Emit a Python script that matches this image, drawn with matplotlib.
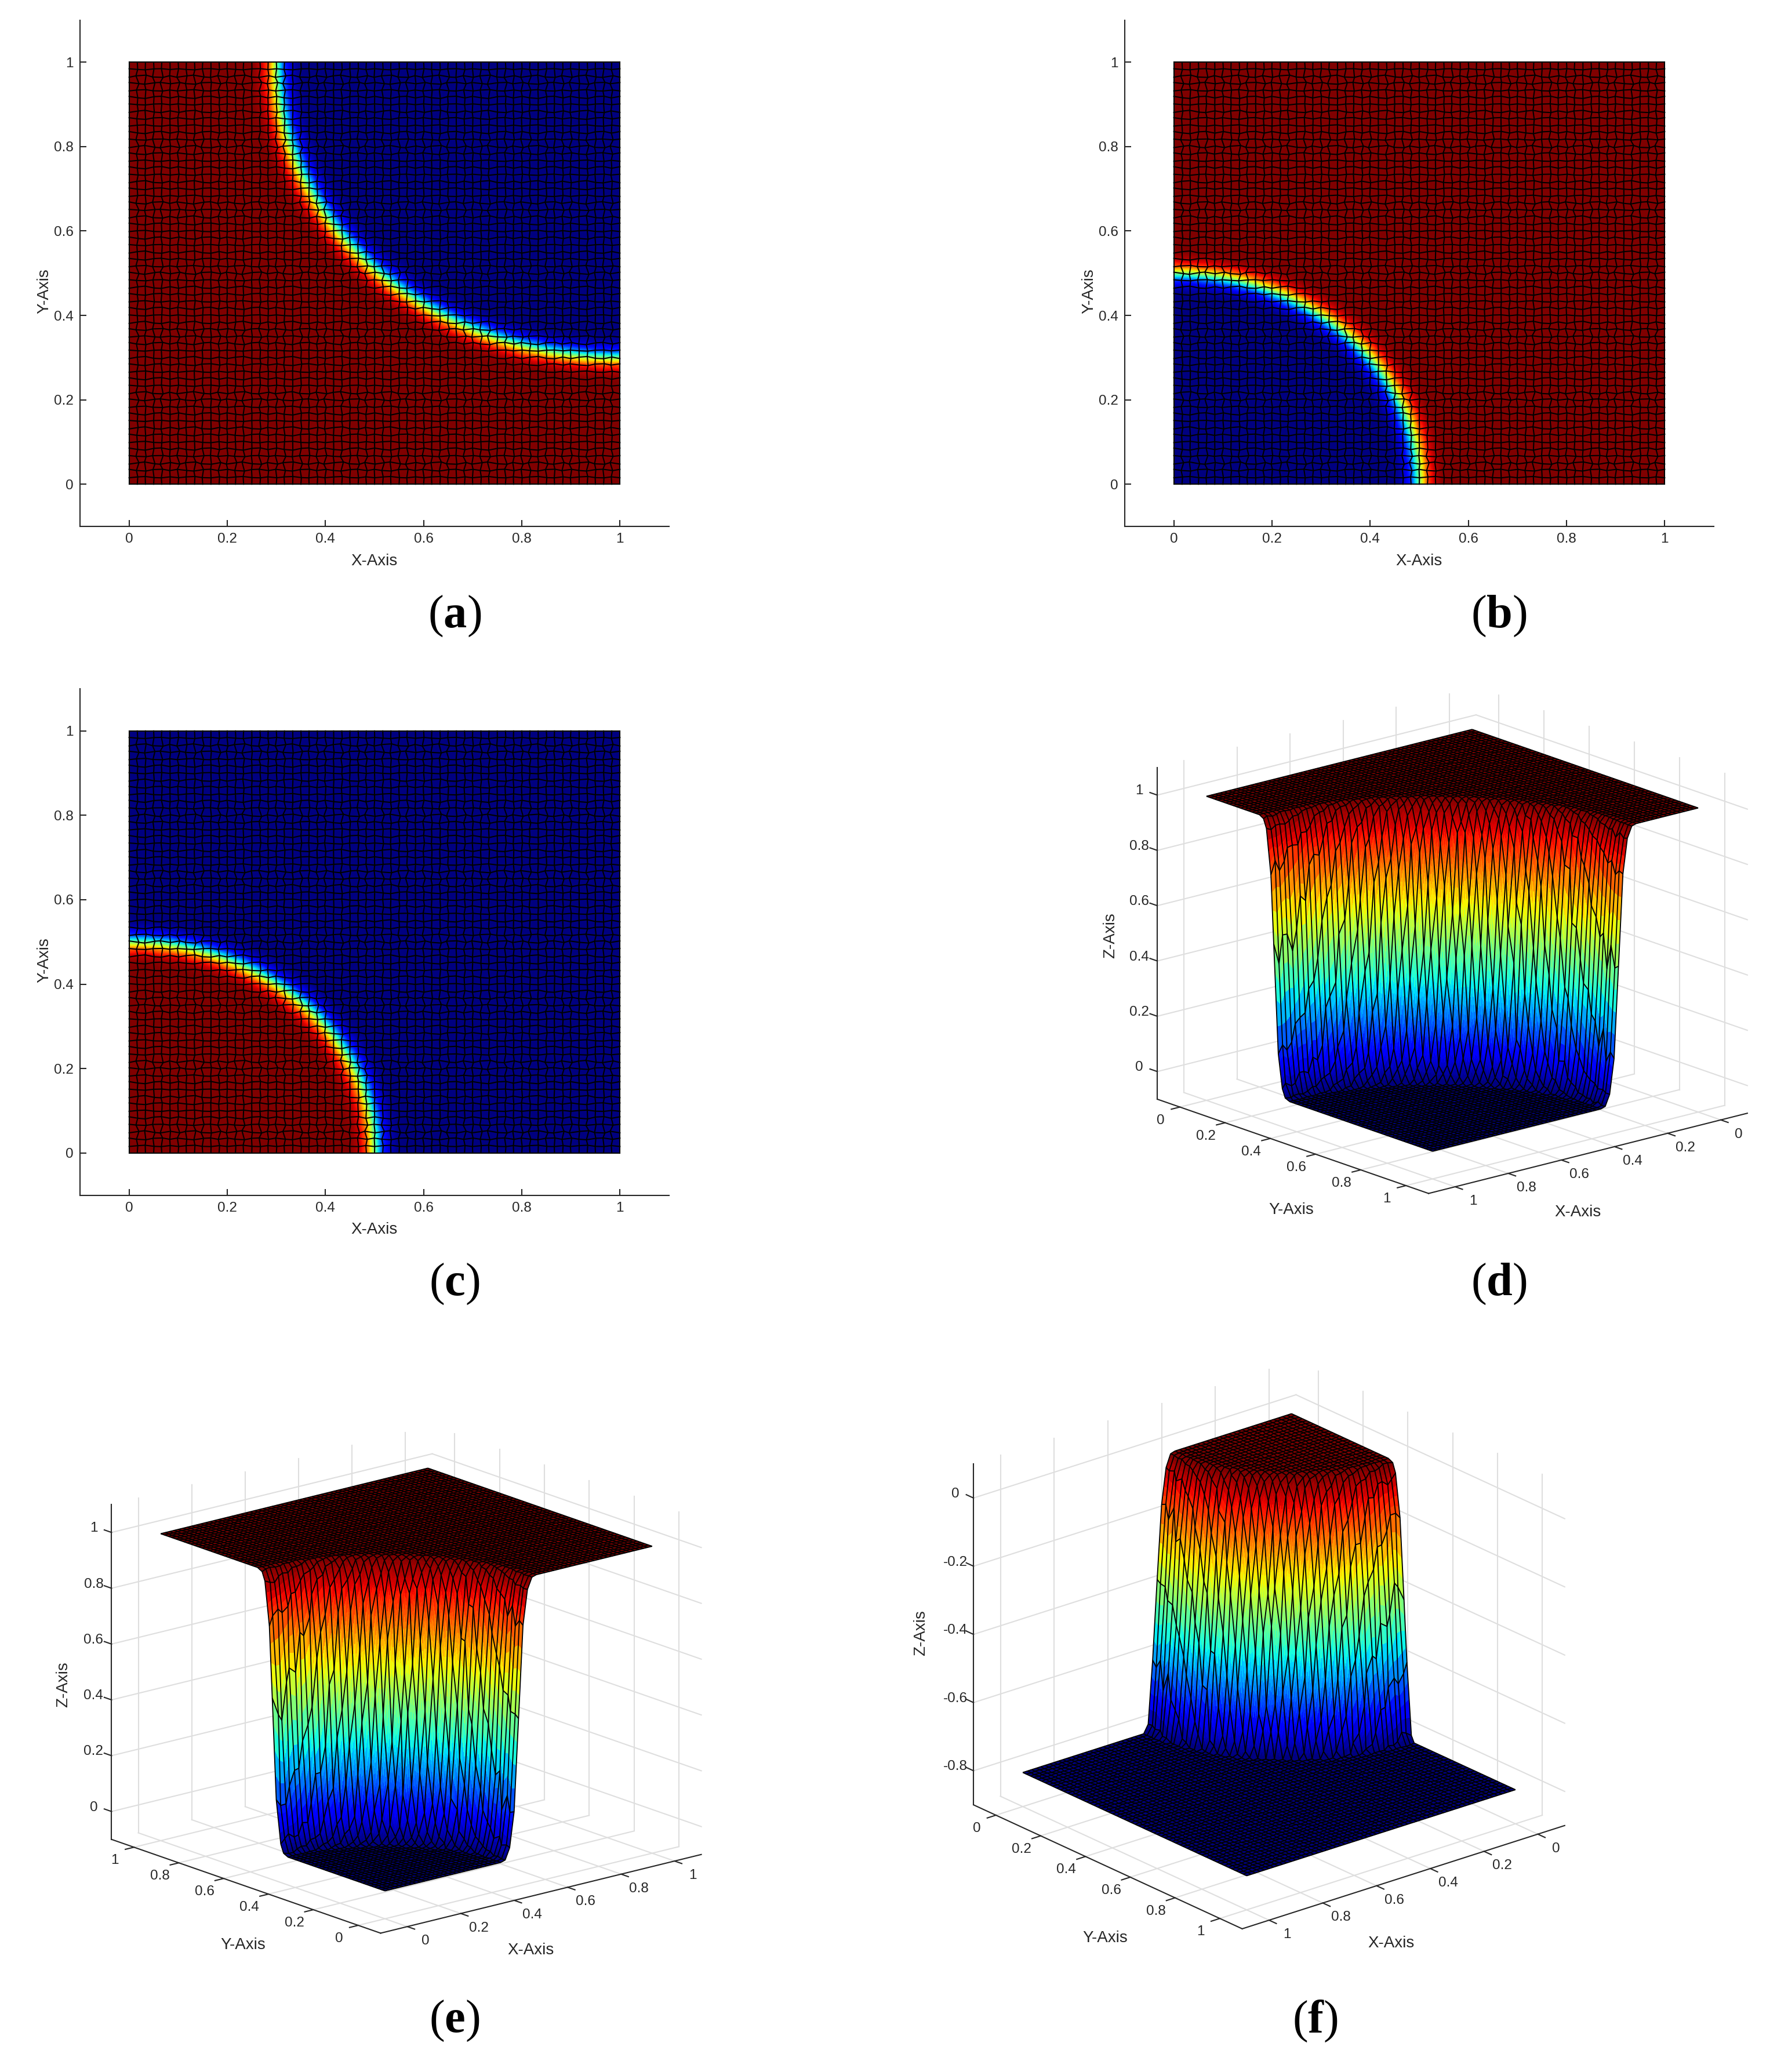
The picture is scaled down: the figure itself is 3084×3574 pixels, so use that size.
import numpy as np
import matplotlib
matplotlib.use('Agg')
import matplotlib.pyplot as plt
from matplotlib.colors import Normalize
from mpl_toolkits.mplot3d import proj3d

W, H = 3084, 3574
DPI = 100
INK = '#262626'
GRID = '#dedede'

# interface profile: distance in cells -> 1 inside, 0 outside
profile_d = [-3.5, -3, -2.5, -2, -1.5, -1, -0.5, 0, 0.5, 1, 1.5, 2, 2.5, 3, 3.5]
profile_u = [1, .995, .98, .955, .91, .83, .68, .5, .32, .17, .09, .045, .02, .005, 0]
# the column of panel f stands on the plane with a sharper foot
profile_u_f = [1, .995, .98, .95, .9, .82, .69, .55, .4, .26, .13, .03, 0, 0, 0]

# node shifts of the mesh, in cells, repeated over the grid
mesh_dy_cols = [.14, -.06, -.16, .1, .16, -.08]
mesh_dy_rows = [1, -.6, .8, -1, .5]
mesh_dx_rows = [0, .06, -.1, .2, -.16, .05, 0, -.05, .1]
mesh_dx_cols = [.3, 1, -.5, .8, -1]
n_cells = 60

# phase blobs: centre x, centre y, radius, value inside, value outside
field_a = (1.0, 1.0, 0.7, 0.0, 1.0)
field_b = (0.0, 0.0, 0.5, 0.0, 1.0)
field_c = (0.0, 0.0, 0.5, 1.0, 0.0)
field_f = (0.0, 0.0, 0.5, 0.0, -0.8)

ticks_01 = [0, 0.2, 0.4, 0.6, 0.8, 1]
labels_01 = ['0', '0.2', '0.4', '0.6', '0.8', '1']
ticks_f = [-0.8, -0.6, -0.4, -0.2, 0]
labels_f = ['-0.8', '-0.6', '-0.4', '-0.2', '0']

plt.rcParams['font.family'] = 'Liberation Sans'
plt.rcParams['mathtext.fontset'] = 'custom'
plt.rcParams['mathtext.bf'] = 'Liberation Serif:bold'
plt.rcParams['mathtext.rm'] = 'Liberation Serif'

jet64 = plt.get_cmap('jet', 64)


def make_mesh():
    t = np.linspace(0, 1, n_cells + 1)
    X, Y = np.meshgrid(t, t)
    jj, ii = np.meshgrid(range(n_cells + 1), range(n_cells + 1))
    dx = np.take(mesh_dx_rows, ii % len(mesh_dx_rows)) * np.take(mesh_dx_cols, jj % len(mesh_dx_cols))
    dy = np.take(mesh_dy_cols, jj % len(mesh_dy_cols)) * np.take(mesh_dy_rows, ii % len(mesh_dy_rows))
    X = X + dx / n_cells
    Y = Y + dy / n_cells
    # keep the outline straight
    X[:, 0], X[:, -1] = 0, 1
    Y[0, :], Y[-1, :] = 0, 1
    return X, Y


def field(X, Y, spec, prof=profile_u):
    cx, cy, radius, inside, outside = spec
    d = (np.hypot(X - cx, Y - cy) - radius) * n_cells
    return outside + (inside - outside) * np.interp(d, profile_d, prof)


def refine(A, k=4):
    # linear subdivision of every cell, so the colour runs through the map
    n = A.shape[0] - 1
    old = np.arange(n + 1)
    new = np.linspace(0, n, n * k + 1)
    A = np.apply_along_axis(lambda c: np.interp(new, old, c), 0, A)
    return np.apply_along_axis(lambda c: np.interp(new, old, c), 1, A)


def fig_text(px, py, s, **kw):
    return fig.text(px / W, 1 - py / H, s, ha='center', va='center', **kw)


def panel_2d(left, top, spec, caption, cap_xy):
    ax = fig.add_axes([left / W, 1 - (top + 873.5) / H, 1016 / W, 873.5 / H])
    X, Y = make_mesh()
    Z = field(X, Y, spec)
    ax.pcolormesh(refine(X), refine(Y), refine(Z), shading='gouraud', cmap='jet',
                  norm=Normalize(0, 1))
    ax.plot(X, Y, color='k', lw=1.5)
    ax.plot(X.T, Y.T, color='k', lw=1.5)
    ax.set_xlim(-0.1, 1.1)
    ax.set_ylim(-0.1, 1.1)
    ax.set_xticks(ticks_01, labels_01)
    ax.set_yticks(ticks_01, labels_01)
    ax.tick_params(direction='in', length=8, width=1.5, color=INK, labelcolor=INK,
                   labelsize=17.5, pad=8)
    for side in ['top', 'right']:
        ax.spines[side].set_visible(False)
    for side in ['left', 'bottom']:
        ax.spines[side].set_linewidth(1.5)
        ax.spines[side].set_color(INK)
    fig_text(left + 508, top + 873.5 + 60, 'X-Axis', color=INK, fontsize=20)
    fig_text(left - 62, top + 468, 'Y-Axis', color=INK, fontsize=20, rotation=90)
    fig_text(*cap_xy, caption, family='Liberation Serif', color='k', fontsize=58)


def panel_3d(centre, box_px, azim, elev, spec, zlim, zticks, zlabels, flip,
             label_xy, caption, cap_xy, prof=profile_u):
    # flip False: camera on the +x,+y side, True: on the -x,-y side
    S = 2000
    world = np.array(box_px, float) * 1.85 / S
    ax = fig.add_axes([0, 0, S / W, S / H], projection='3d', proj_type='ortho',
                      computed_zorder=False)
    ax.set_box_aspect(world, zoom=np.linalg.norm(world) / (1.8294640721620434 * 25 / 24))
    ax.view_init(elev=elev, azim=azim)
    ax.set_axis_off()
    ax.patch.set_visible(False)

    X, Y = make_mesh()
    Z = field(X, Y, spec, prof)
    zmin, zmax = zlim
    norm = Normalize(min(spec[3], spec[4]), max(spec[3], spec[4]))
    ax.plot_surface(refine(X), refine(Y), refine(Z), cmap=jet64, norm=norm, shade=False,
                    rcount=400, ccount=400, linewidth=0, antialiased=False, zorder=3)
    ax.plot_wireframe(X, Y, Z, rstride=1, cstride=1, color='k', linewidth=1.35, zorder=4)

    lo, hi = -0.1, 1.1
    xb, xf = (hi, lo) if flip else (lo, hi)
    yb, yf = (hi, lo) if flip else (lo, hi)
    for t in ticks_01:
        ax.plot([t, t], [yf, yb], [zmin, zmin], color=GRID, lw=1.5, zorder=1)
        ax.plot([xf, xb], [t, t], [zmin, zmin], color=GRID, lw=1.5, zorder=1)
        ax.plot([t, t], [yb, yb], [zmin, zmax], color=GRID, lw=1.5, zorder=1)
        ax.plot([xb, xb], [t, t], [zmin, zmax], color=GRID, lw=1.5, zorder=1)
    for t in zticks:
        ax.plot([xf, xb], [yb, yb], [t, t], color=GRID, lw=1.5, zorder=1)
        ax.plot([xb, xb], [yf, yb], [t, t], color=GRID, lw=1.5, zorder=1)

    # axis lines with the ticks pointing out of the box
    ax.plot([xf, xf], [yb, yb], [zmin, zmax], color=INK, lw=1.5, zorder=5)
    ax.plot([xf, xf], [yb, yf], [zmin, zmin], color=INK, lw=1.5, zorder=5)
    ax.plot([xf, xb], [yf, yf], [zmin, zmin], color=INK, lw=1.5, zorder=5)
    sx = xf - xb
    sy = yf - yb
    tick = 0.027
    for t in ticks_01:
        ax.plot([xf, xf + sx * tick], [t, t], [zmin, zmin], color=INK, lw=1.5, zorder=5)
        ax.plot([t, t], [yf, yf + sy * tick], [zmin, zmin], color=INK, lw=1.5, zorder=5)
    for t in zticks:
        ax.plot([xf, xf], [yb, yb - sy * tick], [t, t], color=INK, lw=1.5, zorder=5)

    ax.set_xlim(lo, hi)
    ax.set_ylim(lo, hi)
    ax.set_zlim(zmin, zmax)

    # move the axes so the box centre lands on the wanted pixel
    ax.apply_aspect()

    def to_px(x, y, z):
        px, py, _ = proj3d.proj_transform(x, y, z, ax.get_proj())
        return ax.transData.transform((px, py))

    at = to_px(0.5, 0.5, 0.5 * (zmin + zmax))
    ax.set_position([(centre[0] - at[0]) / W, (H - centre[1] - at[1]) / H, S / W, S / H])
    ax.apply_aspect()

    def label(x, y, z, s, dx, dy):
        p = to_px(x, y, z)
        fig.text((p[0] + dx) / W, (p[1] + dy) / H, s, ha='center', va='center', color=INK,
                 fontsize=17.5)

    for t, s in zip(ticks_01, labels_01):
        label(xf, t, zmin, s, -33, -23)
        label(t, yf, zmin, s, 31, -25)
    for t, s in zip(zticks, zlabels):
        label(xf, yb, t, s, -31, 7)

    fig_text(*label_xy[0], 'Y-Axis', color=INK, fontsize=20)
    fig_text(*label_xy[1], 'X-Axis', color=INK, fontsize=20)
    fig_text(*label_xy[2], 'Z-Axis', color=INK, fontsize=20, rotation=90)
    fig_text(*cap_xy, caption, family='Liberation Serif', color='k', fontsize=58)


fig = plt.figure(figsize=(W / DPI, H / DPI), dpi=DPI, facecolor='white')

panel_2d(138, 34.5, field_a, r'($\mathbf{a}$)', (784, 1063))
panel_2d(1940, 34.5, field_b, r'($\mathbf{b}$)', (2585, 1063))
panel_2d(138, 1188, field_c, r'($\mathbf{c}$)', (784, 2215))

panel_3d((2505, 1622), (722, 722, 599), 49.6, 17.2, field_a,
         (-0.1, 1.1), ticks_01, labels_01, False,
         [(2227, 2087), (2721, 2091), (1915, 1614)], r'($\mathbf{d}$)', (2585, 2215))
panel_3d((701, 2897), (722, 722, 604), 230, 17.0, field_b,
         (-0.1, 1.1), ticks_01, labels_01, True,
         [(419, 3355), (916, 3364), (109, 2906)], r'($\mathbf{e}$)', (784, 3486))
panel_3d((2189, 2837), (724, 724, 637), 50.2, 22.6, field_f,
         (-0.9, 0.1), ticks_f, labels_f, False,
         [(1906, 3343), (2400, 3352), (1588, 2817)], r'($\mathbf{f}$)', (2268, 3486),
         prof=profile_u_f)

fig.savefig('out.png', dpi=DPI)
